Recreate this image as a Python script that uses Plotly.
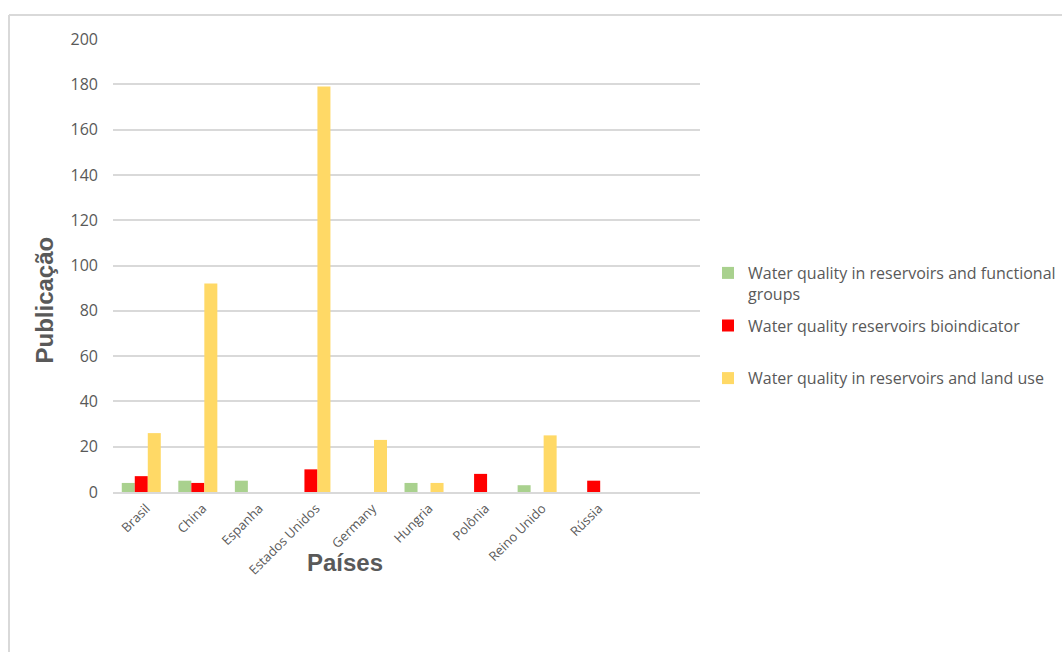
import plotly.graph_objects as go

# Publications per country, by search theme
paises = ["Brasil", "China", "Espanha", "Estados Unidos", "Germany",
          "Hungria", "Polônia", "Reino Unido", "Rússia"]
functional_groups = [4, 5, 5, None, None, 4, None, 3, None]
bioindicator = [7, 4, None, 10, None, None, 8, None, 5]
land_use = [26, 92, None, 179, 23, 4, None, 25, None]

series_names = [
    "Water quality in reservoirs and functional<br>groups",
    "Water quality reservoirs bioindicator<br> ",
    "Water quality in reservoirs and land use",
]
series_colors = ["#A9D18E", "#FF0000", "#FFD966"]

W, H = 1062, 652
PL, PR, PT, PB = 113, 700, 39, 492  # plot area in pixels


def px_x(x):
    return (x - PL) / (PR - PL)


def px_y(y):
    return (PB - y) / (PB - PT)


TXT = "#595959"
FONT = "Open Sans"

fig = go.Figure()
for name, vals, col in zip(series_names, [functional_groups, bioindicator, land_use], series_colors):
    fig.add_trace(go.Bar(x=paises, y=vals, name=name, marker_color=col,
                         marker_line_width=0, legendgroup=name))

fig.update_layout(
    width=W, height=H,
    margin=dict(l=PL, r=W - PR, t=PT, b=H - PB, pad=0, autoexpand=False),
    paper_bgcolor="white", plot_bgcolor="white",
    barmode="group", bargap=0.31, bargroupgap=0,
    font=dict(family=FONT, color=TXT, size=16),
    showlegend=True,
    legend=dict(x=px_x(708), y=px_y(256), xanchor="left", yanchor="top",
                valign="top", tracegroupgap=8, traceorder="grouped",
                font=dict(family=FONT, size=16, color=TXT),
                itemwidth=30, bgcolor="rgba(0,0,0,0)"),
    xaxis=dict(range=[-0.5, 9.88], tickangle=-45, showgrid=False,
               showline=True, linecolor="#D9D9D9", linewidth=1.5,
               ticks="", ticklabelstandoff=2, ticklabelshift=5,
               tickfont=dict(family=FONT, size=13, color=TXT)),
    yaxis=dict(range=[0, 200], dtick=20, showgrid=True, gridcolor="#D9D9D9",
               gridwidth=1.5, zeroline=False, showline=False, ticks="",
               ticklabelstandoff=14,
               tickfont=dict(family=FONT, size=16, color=TXT)),
)

# Axis titles
fig.add_annotation(text="<b>Publicação</b>", x=px_x(28), y=px_y(300),
                   xref="paper", yref="paper", textangle=-90, showarrow=False,
                   font=dict(family="Liberation Sans", size=24, color=TXT))
fig.add_annotation(text="<b>Países</b>", x=px_x(345), y=px_y(578),
                   xref="paper", yref="paper", showarrow=False,
                   font=dict(family="Liberation Sans", size=24, color=TXT))

# Chart frame (left and top edges)
fig.add_shape(type="line", xref="paper", yref="paper",
              x0=px_x(9), x1=px_x(9), y0=px_y(15), y1=px_y(H + 5),
              line=dict(color="#D9D9D9", width=2))
fig.add_shape(type="line", xref="paper", yref="paper",
              x0=px_x(9), x1=px_x(W + 5), y0=px_y(15), y1=px_y(15),
              line=dict(color="#D9D9D9", width=2))

fig.write_html("out.html")
